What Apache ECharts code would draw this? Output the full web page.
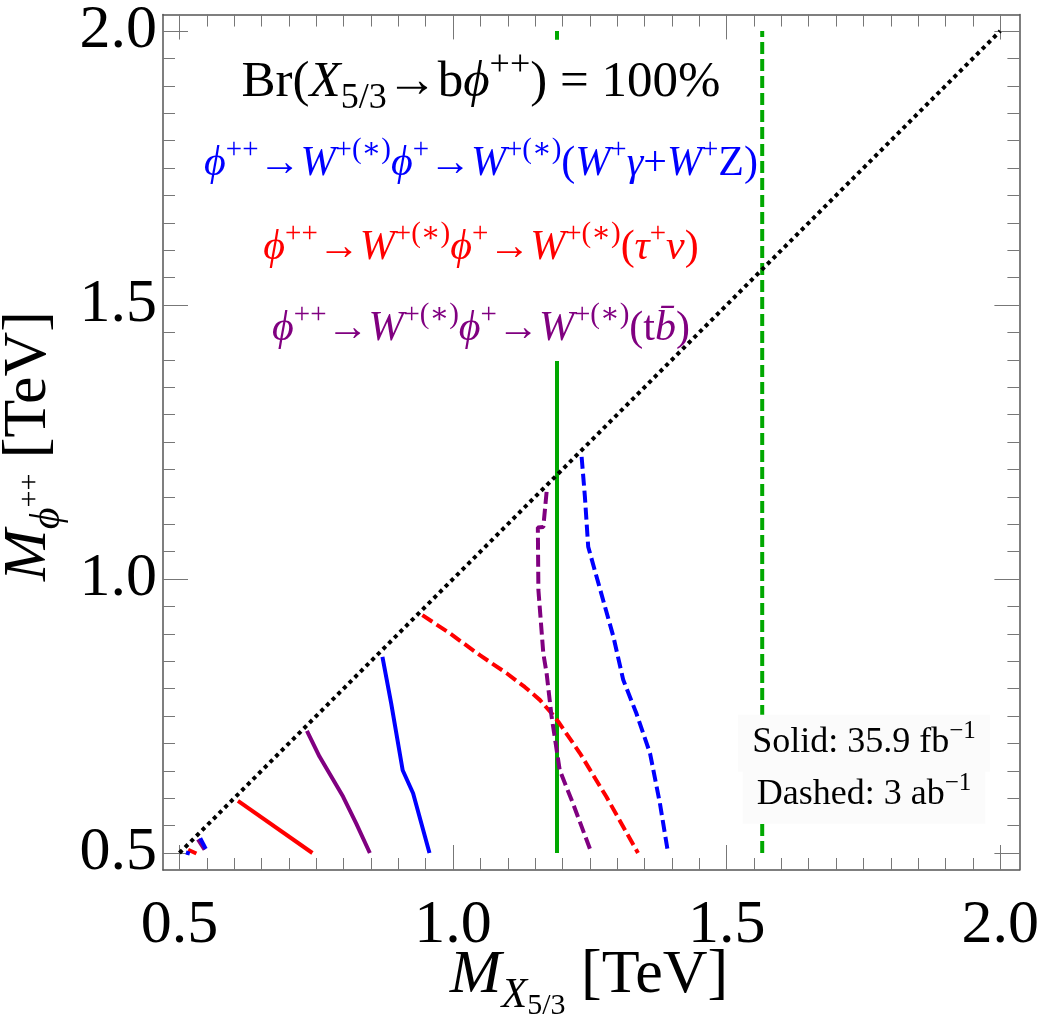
<!DOCTYPE html>
<html>
<head>
<meta charset="utf-8">
<script src="https://cdn.jsdelivr.net/npm/echarts@6/dist/echarts.min.js"></script>
<style>
html, body { margin: 0; padding: 0; background: #fff; }
#chart { width: 1042px; height: 1021px; }
</style>
</head>
<body>
<div id="chart"></div>
<script>
// tick values
var majorTicks = [0.5, 1.0, 1.5, 2.0];
var minorTicks = [];
for (var t = 0.55; t < 2.0; t += 0.05) {
  var r = Math.round(t * 100) / 100;
  if (Math.abs(r * 2 - Math.round(r * 2)) > 1e-6) minorTicks.push(r);
}

// curves (TeV)
var diagonal = [[0.5, 0.5], [2.0, 2.0]];
var greenSolid = [[1.19, 0.5], [1.19, 2.0]];
var greenDashed = [[1.565, 0.5], [1.565, 2.0]];

var redSolid = [[0.607, 0.595], [0.743, 0.5]];
var redSolidTiny = [[0.516, 0.506], [0.531, 0.499]];
var purpleSolid = [[0.733, 0.723], [0.756, 0.676], [0.799, 0.603], [0.823, 0.554], [0.848, 0.5]];
var purpleSolidTiny = [[0.534, 0.525], [0.546, 0.506]];
var blueSolid = [[0.871, 0.858], [0.887, 0.773], [0.908, 0.651], [0.927, 0.609], [0.957, 0.5]];
var blueSolidTiny = [[0.512, 0.501], [0.519, 0.499]];

var redDashed = [[0.944, 0.934], [0.994, 0.901], [1.049, 0.861], [1.098, 0.828], [1.131, 0.803],
  [1.159, 0.779], [1.18, 0.755], [1.192, 0.740], [1.232, 0.682], [1.280, 0.603], [1.338, 0.5]];
var purpleDashed = [[1.171, 1.159], [1.165, 1.095], [1.155, 1.094], [1.156, 0.98], [1.165, 0.864],
  [1.171, 0.828], [1.18, 0.75], [1.195, 0.651], [1.219, 0.591], [1.253, 0.5]];
var blueDashed = [[1.235, 1.223], [1.241, 1.150], [1.247, 1.059], [1.259, 1.016], [1.293, 0.895],
  [1.311, 0.816], [1.335, 0.755], [1.360, 0.682], [1.378, 0.591], [1.393, 0.5]];
var blueDashedTiny = [[0.538, 0.527], [0.549, 0.506]];

var SERIF = '"Liberation Serif", "DejaVu Serif", serif';
var BLUE = '#0000ff', RED = '#ff0000', PURPLE = '#800080', GREEN = '#00a800';
var FRAME = '#555', TICK = '#777';

var chart = echarts.init(document.getElementById('chart'));

function curve(data, color, dashed, z) {
  return {
    type: 'line', data: data, showSymbol: false, symbol: 'none', silent: true,
    animation: false, z: z || 3,
    lineStyle: { color: color, width: 4, type: dashed ? [12, 5] : 'solid', cap: 'butt' }
  };
}

function axis(kind, pos, ticks, len, withLine, withLabel) {
  var a = {
    type: 'value', position: pos,
    min: kind === 'x' ? 0.47 : 0.469, max: kind === 'x' ? 2.035 : 2.03,
    axisLine: { show: withLine, onZero: false, lineStyle: { color: FRAME, width: 1.5 } },
    axisTick: { show: true, inside: true, length: len, customValues: ticks, lineStyle: { color: TICK, width: 1 } },
    axisLabel: { show: false },
    splitLine: { show: false }
  };
  if (withLabel) {
    a.axisLabel = {
      show: true, customValues: majorTicks, color: '#000', fontSize: 62, fontFamily: SERIF,
      margin: kind === 'x' ? 25 : 6,
      formatter: function (v) { return v.toFixed(1); }
    };
  }
  return a;
}

// rich-text styles: every token bottom aligned, baseline shifted with bottom padding
function richFor(F, color) {
  var pm = Math.round(0.2 * F);
  var s = Math.round(0.7 * F);
  var supPad = Math.round(pm + 0.16 * F + 0.42 * F - 0.16 * s);
  var subPad = Math.max(0, Math.round(pm + 0.16 * F - 0.22 * F - 0.16 * s));
  function st(size, italic, pad) {
    return { fontSize: size, fontFamily: SERIF, fontStyle: italic ? 'italic' : 'normal',
      fill: color, verticalAlign: 'bottom', padding: [0, 0, pad, 0] };
  }
  return { n: st(F, false, pm), i: st(F, true, pm), sup: st(s, false, supPad), sub: st(s, false, subPad) };
}

function label(x, y, text, F, color, pad, bg, z) {
  return {
    type: 'text', x: x, y: y, z: z || 2, silent: true,
    style: {
      text: text, align: 'center', verticalAlign: 'middle',
      rich: richFor(F, color), backgroundColor: bg || null, padding: pad || 0
    }
  };
}

var titleText = '{n|Br(}{i|X}{sub|5/3}{n|\u2192b}{i|\u03d5}{sup|++}{n|) = 100%}';
var blueText = '{i|\u03d5}{sup|++}{n|\u2192}{i|W}{sup|+(\u2217)}{i|\u03d5}{sup|+}{n|\u2192}{i|W}{sup|+(\u2217)}' +
  '{n|(}{i|W}{sup|+}{i|\u03b3}{n|+}{i|W}{sup|+}{n|Z)}';
var redText = '{i|\u03d5}{sup|++}{n|\u2192}{i|W}{sup|+(\u2217)}{i|\u03d5}{sup|+}{n|\u2192}{i|W}{sup|+(\u2217)}' +
  '{n|(}{i|\u03c4}{sup|+}{i|\u03bd}{n|)}';
var purpleText = '{i|\u03d5}{sup|++}{n|\u2192}{i|W}{sup|+(\u2217)}{i|\u03d5}{sup|+}{n|\u2192}{i|W}{sup|+(\u2217)}' +
  '{n|(t}{i|b\u0304}{n|)}';
var solidText = '{n|Solid: 35.9 fb}{sup|\u22121}';
var dashedText = '{n|Dashed: 3 ab}{sup|\u22121}';

function axisTitleRich() {
  function st(size, italic, pad) {
    return { fontSize: size, fontFamily: SERIF, fontStyle: italic ? 'italic' : 'normal',
      fill: '#000', verticalAlign: 'bottom', padding: [0, 0, pad, 0] };
  }
  return {
    m: st(62, true, 20), n: st(62, false, 20),
    s1: st(42, true, 10), s2: st(30, false, 6),
    p1: st(42, true, 11), p2: st(30, false, 35)
  };
}

chart.setOption({
  animation: false,
  grid: { left: 163, right: 22, top: 14, bottom: 151, containLabel: false },
  xAxis: [
    axis('x', 'bottom', majorTicks, 25, true, true),
    axis('x', 'bottom', minorTicks, 12, false, false),
    axis('x', 'top', majorTicks, 25, true, false),
    axis('x', 'top', minorTicks, 12, false, false)
  ],
  yAxis: [
    axis('y', 'left', majorTicks, 25, true, true),
    axis('y', 'left', minorTicks, 12, false, false),
    axis('y', 'right', majorTicks, 25, true, false),
    axis('y', 'right', minorTicks, 12, false, false)
  ],
  series: [
    curve(greenSolid, GREEN, false, 1),
    curve(greenDashed, GREEN, true, 3),
    curve(redSolid, RED, false), curve(redSolidTiny, RED, false),
    curve(purpleSolid, PURPLE, false), curve(purpleSolidTiny, PURPLE, false),
    curve(blueSolid, BLUE, false), curve(blueSolidTiny, BLUE, false),
    curve(redDashed, RED, true), curve(purpleDashed, PURPLE, true),
    curve(blueDashed, BLUE, true), curve(blueDashedTiny, BLUE, true),
    {
      type: 'line', data: diagonal, showSymbol: false, symbol: 'none', silent: true, z: 4,
      lineStyle: { color: '#000', width: 4, type: [4, 4], cap: 'butt' }
    }
  ],
  graphic: [
    label(481, 82.8, titleText, 51, '#000', [8, 8], '#fff'),
    label(481, 164.4, blueText, 42, BLUE, [18, 6], '#fff'),
    label(481, 248.4, redText, 42, RED, [15, 6], '#fff'),
    label(481, 323.4, purpleText, 42, PURPLE, [15, 6, 3, 6], '#fff'),
    label(864, 743.3, solidText, 36, '#000', [4, 14], '#fbfbfb', 5),
    label(864, 795.3, dashedText, 36, '#000', [4, 14], '#fbfbfb', 5),
    {
      type: 'text', x: 589, y: 986, silent: true,
      style: { text: '{m|M}{s1|X}{s2|5/3}{n| [TeV]}', align: 'center', verticalAlign: 'middle', rich: axisTitleRich() }
    },
    {
      type: 'text', x: 39, y: 446, rotation: Math.PI / 2, silent: true,
      style: { text: '{m|M}{p1|\u03d5}{p2|++}{n| [TeV]}', align: 'center', verticalAlign: 'middle', rich: axisTitleRich() }
    }
  ]
});
</script>
</body>
</html>
